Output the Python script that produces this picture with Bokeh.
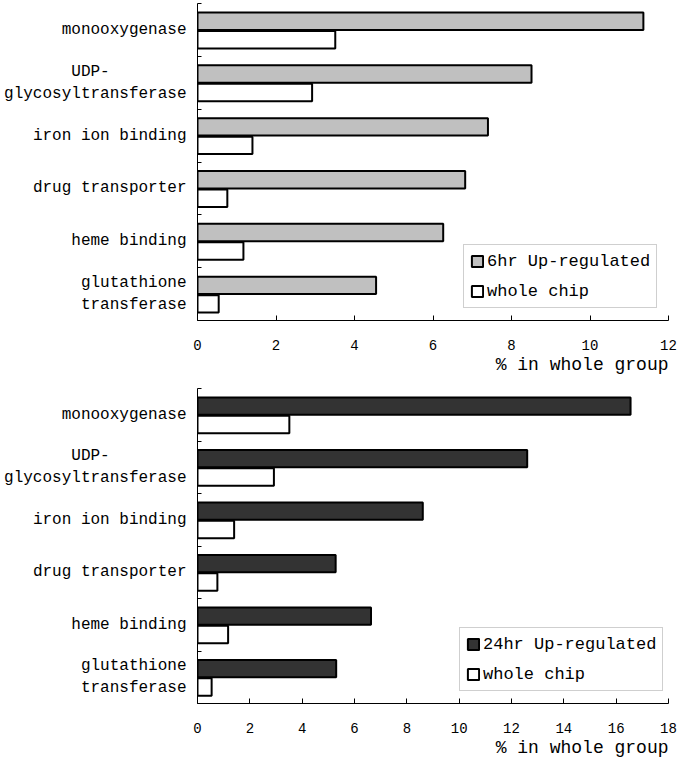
from bokeh.plotting import figure
from bokeh.models import ColumnDataSource, FixedTicker, Range1d, Legend, LegendItem, Title
from bokeh.layouts import column
from bokeh.transform import dodge
from bokeh.embed import file_html
from bokeh.resources import INLINE

NB = "\u00a0"
categories = ["monooxygenase", "UDP-glycosyltransferase", "iron ion binding",
              "drug transporter", "heme binding", "glutathione transferase"]
tick_labels = ["monooxygenase", "UDP-" + NB * 8 + "\nglycosyltransferase", "iron ion binding",
               "drug transporter", "heme binding", "glutathione\ntransferase"]
up_6hr = [11.36, 8.51, 7.40, 6.82, 6.26, 4.55]
up_24hr = [16.55, 12.60, 8.61, 5.28, 6.63, 5.30]
whole_chip = [3.51, 2.92, 1.40, 0.76, 1.17, 0.54]
x_ticks_6 = [0, 2, 4, 6, 8, 10, 12]
x_ticks_24 = [0, 2, 4, 6, 8, 10, 12, 14, 16, 18]

FONT = "Liberation Mono"
n = len(categories)
ypos = [n - 0.5 - i for i in range(n)]


def make_panel(up, up_label, up_color, xmax, xticks, height, top_border, leg_x, leg_y):
    src = ColumnDataSource(dict(y=ypos, up=up, whole=whole_chip))
    p = figure(width=680, height=height, output_backend="svg", toolbar_location=None,
               x_range=Range1d(0, xmax), y_range=Range1d(0, n),
               min_border_left=197, min_border_right=12, min_border_top=top_border,
               min_border_bottom=58)
    p.outline_line_color = None
    p.grid.visible = False
    r_up = p.hbar(y=dodge("y", 0.165, range=p.y_range), right="up", left=0, height=0.33,
                  source=src, fill_color=up_color, line_color="black", line_width=2)
    r_wh = p.hbar(y=dodge("y", -0.185, range=p.y_range), right="whole", left=0, height=0.33,
                  source=src, fill_color="white", line_color="black", line_width=2)

    xa = p.xaxis[0]
    xa.ticker = FixedTicker(ticks=xticks)
    xa.major_tick_in = 5
    xa.major_tick_out = 0
    xa.minor_tick_line_color = None
    xa.axis_line_color = "black"
    xa.major_label_text_font = FONT
    xa.major_label_text_font_size = "14px"
    xa.major_label_text_color = "black"
    xa.major_label_standoff = 19

    ya = p.yaxis[0]
    ya.ticker = FixedTicker(ticks=ypos, minor_ticks=list(range(n + 1)))
    ya.major_tick_in = 0
    ya.major_tick_out = 0
    ya.minor_tick_in = 4
    ya.minor_tick_out = 0
    ya.minor_tick_line_color = "black"
    ya.axis_line_color = "black"
    ya.major_label_overrides = {y: lab for y, lab in zip(ypos, tick_labels)}
    ya.major_label_text_font = FONT
    ya.major_label_text_font_size = "16px"
    ya.major_label_text_color = "black"
    ya.major_label_standoff = 11

    t = Title(text="% in whole group", align="right", text_font=FONT,
              text_font_size="18px", text_font_style="normal", text_color="black",
              standoff=0, offset=0)
    p.add_layout(t, "below")

    legend = Legend(items=[LegendItem(label=up_label, renderers=[r_up]),
                           LegendItem(label="whole chip", renderers=[r_wh])],
                    location=(leg_x, leg_y), border_line_color="#a0a0a0",
                    label_text_font=FONT, label_text_font_size="17px",
                    label_text_color="black",
                    glyph_width=14, glyph_height=14, padding=6, spacing=10,
                    label_height=20, label_standoff=3, margin=0)
    p.add_layout(legend, "center")
    return p


p1 = make_panel(up_6hr, "6hr Up-regulated", "#c0c0c0", 12, x_ticks_6, 378, 3, 266, 12)
p2 = make_panel(up_24hr, "24hr Up-regulated", "#333333", 18, x_ticks_24, 383, 10, 262, 12)
layout = column(p1, p2, spacing=0)

open("out.html", "w").write(file_html(layout, INLINE))
